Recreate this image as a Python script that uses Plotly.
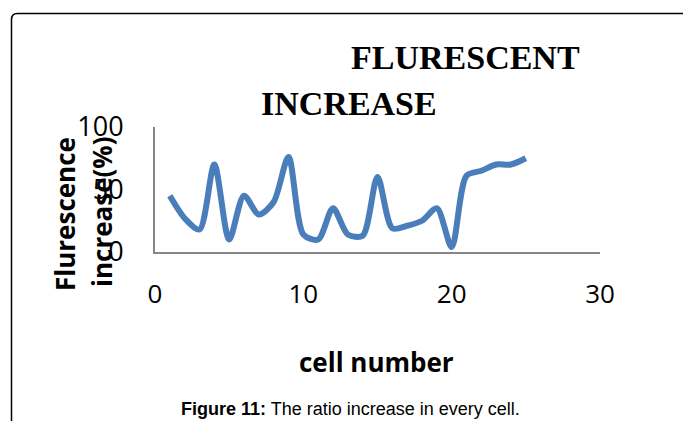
import plotly.graph_objects as go

cells = list(range(1, 26))
increase = [45, 27, 18, 70, 10, 45, 30, 40, 76, 14, 10, 35, 14, 13, 60, 19, 21, 25, 35, 4, 61, 65, 70, 70, 75]
x_ticks = [0, 10, 20, 30]
y_ticks = [0, 50, 100]

W, H = 683, 421
L, R, T, B = 155, 600, 127, 252


def px(x):
    return (x - L) / (R - L)


def py(y):
    return (B - y) / (B - T)


fig = go.Figure()
fig.add_trace(go.Scatter(
    x=cells, y=increase, mode="lines",
    line=dict(color="#4A7EBB", width=6, shape="spline", smoothing=0.8),
    showlegend=False, hoverinfo="skip",
))

fig.update_layout(
    width=W, height=H,
    margin=dict(l=L, r=W - R, t=T, b=H - B),
    paper_bgcolor="white", plot_bgcolor="white",
    xaxis=dict(range=[0, 30], tickvals=x_ticks, showgrid=False, zeroline=False,
               showline=True, linecolor="#868686", linewidth=2, ticks="",
               tickfont=dict(family="Open Sans", size=26, color="#000"),
               ticklabelstandoff=18),
    yaxis=dict(range=[0, 100], tickvals=y_ticks, showgrid=False, zeroline=False,
               showline=True, linecolor="#868686", linewidth=2, ticks="",
               tickfont=dict(family="Open Sans", size=27, color="#000"),
               ticklabelstandoff=24),
)

# frame with rounded top-left corner
x0, y0, x1, y1 = 11.5, 13.5, 700, 440
r = 6
path = (f"M {px(x0)},{py(y1)} L {px(x0)},{py(y0 + r)} "
        f"Q {px(x0)},{py(y0)} {px(x0 + r)},{py(y0)} L {px(x1)},{py(y0)}")
fig.add_shape(type="path", xref="paper", yref="paper", path=path,
              line=dict(color="black", width=1.5))


def note(x, y, text, font, angle=0):
    fig.add_annotation(x=px(x), y=py(y), xref="paper", yref="paper",
                       xanchor="center", yanchor="middle",
                       text=text, showarrow=False, font=font, textangle=angle)


serif = dict(family="Liberation Serif", size=34, color="black")
note(465, 57, "<b>FLURESCENT</b>", serif)
note(349, 103, "<b>INCREASE</b>", serif)

lab = dict(family="Open Sans", size=26, color="black")
note(65, 214, "<b>Flurescence</b>", lab, -90)
note(102, 212, "<b>increase(%)</b>", lab, -90)
note(376, 362, "<b>cell number</b>", lab)

note(350, 409, "<b>Figure 11:</b> The ratio increase in every cell.",
     dict(family="Liberation Sans", size=18, color="black"))

fig.write_html("out.html")
